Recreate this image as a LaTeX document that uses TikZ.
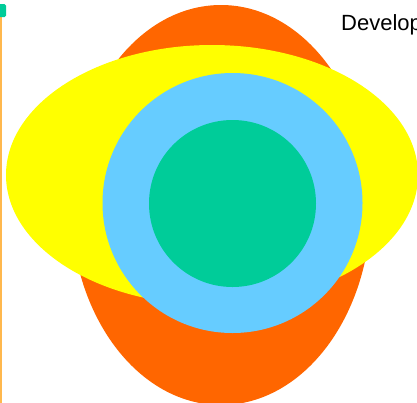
\documentclass[tikz,border=0pt]{standalone}
\usepackage{fontspec}
\setmainfont{Liberation Sans}
\definecolor{cOrange}{HTML}{FF6600}
\definecolor{cYellow}{HTML}{FFFF00}
\definecolor{cBlue}{HTML}{66CCFF}
\definecolor{cTeal}{HTML}{00CC99}
\definecolor{cLine}{HTML}{FFB84D}
\begin{document}
\begin{tikzpicture}[x=1pt,y=-1pt]
\useasboundingbox (0,0) rectangle (417,402);
\clip (0,0) rectangle (417,402);
\fill[white] (0,0) rectangle (417,402);
\fill[cOrange] (221,205) ellipse [x radius=150, y radius=200];
\fill[cYellow] (212,175) ellipse [x radius=206, y radius=130];
\fill[cBlue] (232.5,203) circle [radius=130];
\fill[cTeal] (232.5,203.5) circle [radius=83.5];
\draw[cLine, line width=2pt] (1,17) -- (1,405);
\fill[cTeal, rounded corners=1.5pt] (-7,4) rectangle (6,17);
\node[anchor=base west, inner sep=0pt, font=\fontsize{22}{26}\selectfont] (title) at (341,30) {Develop};
\end{tikzpicture}
\end{document}
